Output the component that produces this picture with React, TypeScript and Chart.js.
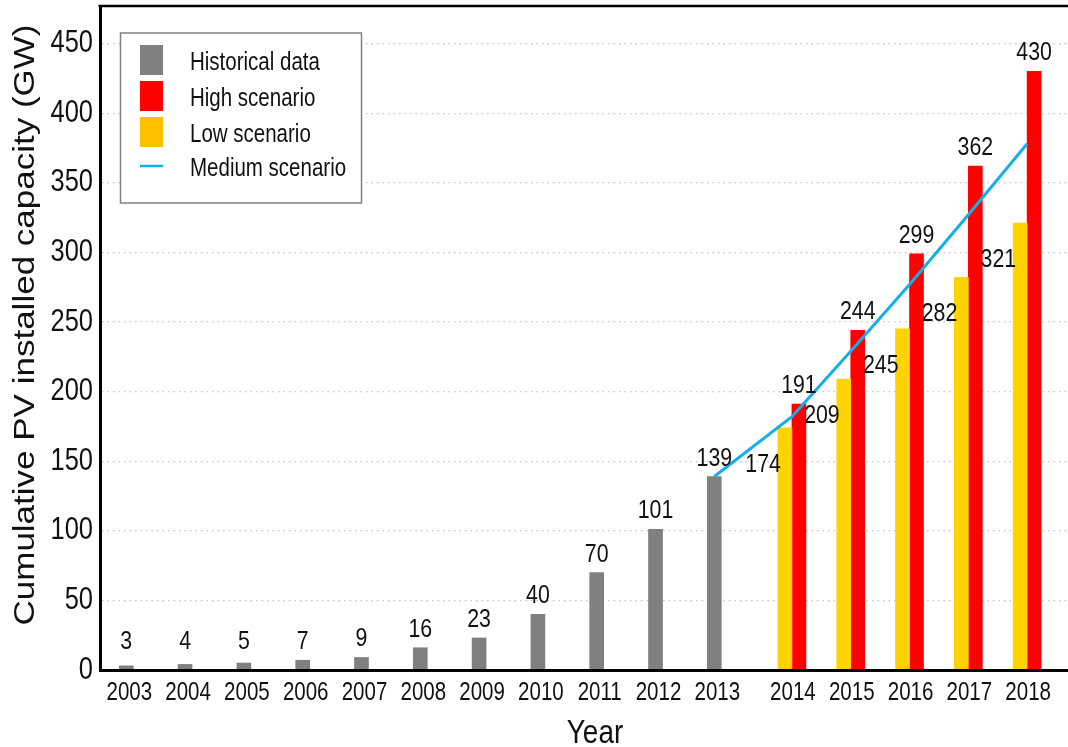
import React, { useEffect, useRef } from "react";
import { Chart, registerables } from "chart.js";

Chart.register(...registerables);

// ---------- data ----------
const historicalYears = [2003, 2004, 2005, 2006, 2007, 2008, 2009, 2010, 2011, 2012, 2013];
const historicalValues = [3, 4, 5, 7, 9, 16, 23, 40, 70, 101, 139];
const scenarioYears = [2014, 2015, 2016, 2017, 2018];
const highValues = [191, 244, 299, 362, 430];
const lowValues = [174, 209, 245, 282, 321];
const mediumYears = [2013, 2014, 2015, 2016, 2017, 2018];
const mediumValues = [139, 182, 229, 277, 327, 378];
const xTickYears = [...historicalYears, ...scenarioYears];
const xTickLabels = xTickYears.map(String);
const legendLabels = ["Historical data", "High scenario", "Low scenario", "Medium scenario"];
const yTitle = "Cumulative PV installed capacity (GW)";
const xTitle = "Year";

// ---------- style ----------
const GRAY = "#808080";
const RED = "#ff0000";
const YELLOW = "#ffd200";
const LEGEND_YELLOW = "#ffc000";
const BLUE = "#14afe9";
const FONT = "'Liberation Sans', Arial, sans-serif";
const SQUEEZE = 0.82;
const TEXT = "#111";
const FORECAST_GAP = 0.32;
const xPos = (year: number) => year - 2003 + (year >= 2014 ? FORECAST_GAP : 0);

function narrowText(
  ctx: CanvasRenderingContext2D,
  text: string,
  x: number,
  y: number,
  size: number,
  align: CanvasTextAlign,
  baseline: CanvasTextBaseline = "alphabetic"
) {
  ctx.save();
  ctx.translate(x, y);
  ctx.scale(SQUEEZE, 1);
  ctx.font = `${size}px ${FONT}`;
  ctx.fillStyle = TEXT;
  ctx.textAlign = align;
  ctx.textBaseline = baseline;
  ctx.fillText(text, 0, 0);
  ctx.restore();
}

const decorPlugin = {
  id: "pvDecor",
  afterDraw(chart: any) {
    const { ctx, chartArea } = chart;
    const xScale = chart.scales.x;
    const yScale = chart.scales.y;
    const zeroY = yScale.getPixelForValue(0);
    ctx.save();

    // top frame line
    ctx.strokeStyle = "#000";
    ctx.lineWidth = 2.5;
    ctx.beginPath();
    ctx.moveTo(chartArea.left - 1.5, chartArea.top);
    ctx.lineTo(chart.width, chartArea.top);
    ctx.stroke();

    // tick labels
    yScale.ticks.forEach((t: any) => {
      narrowText(ctx, String(t.value), chartArea.left - 7, yScale.getPixelForValue(t.value), 31, "right", "middle");
    });
    xScale.ticks.forEach((t: any, i: number) => {
      const shift = xTickYears[i] < 2014 ? 3 : 1;
      narrowText(ctx, xTickLabels[i], xScale.getPixelForValue(t.value) + shift, 700, 25, "center");
    });

    // value labels
    const histMeta = chart.getDatasetMeta(1);
    histMeta.data.forEach((el: any, i: number) => {
      const yb = Math.min(el.y - 11, zeroY - 21);
      narrowText(ctx, String(historicalValues[i]), el.x, yb, 26, "center");
    });
    const lowMeta = chart.getDatasetMeta(2);
    lowMeta.data.forEach((el: any, i: number) => {
      narrowText(ctx, String(lowValues[i]), el.x - el.width / 2 + 3, el.y + 44, 26, "right");
    });
    const highMeta = chart.getDatasetMeta(3);
    highMeta.data.forEach((el: any, i: number) => {
      narrowText(ctx, String(highValues[i]), el.x, el.y - 11, 26, "center");
    });

    // legend
    const lx = 120.5, ly = 33, lw = 241, lh = 170;
    ctx.fillStyle = "#fff";
    ctx.fillRect(lx, ly, lw, lh);
    ctx.strokeStyle = "#808080";
    ctx.lineWidth = 1.5;
    ctx.strokeRect(lx, ly, lw, lh);
    const swatchColors = [GRAY, RED, LEGEND_YELLOW];
    const rowCenters = [60, 96, 132, 166];
    swatchColors.forEach((c, i) => {
      ctx.fillStyle = c;
      ctx.fillRect(140, rowCenters[i] - 15, 23, 30);
    });
    ctx.strokeStyle = BLUE;
    ctx.lineWidth = 2.5;
    ctx.beginPath();
    ctx.moveTo(140, rowCenters[3]);
    ctx.lineTo(163, rowCenters[3]);
    ctx.stroke();
    legendLabels.forEach((t, i) => {
      narrowText(ctx, t, 190, rowCenters[i] + 10, 25, "left");
    });

    // axis titles
    ctx.save();
    ctx.translate(34, 325);
    ctx.scale(0.83, 1);
    ctx.rotate(-Math.PI / 2);
    ctx.font = `35px ${FONT}`;
    ctx.fillStyle = TEXT;
    ctx.textAlign = "center";
    ctx.textBaseline = "alphabetic";
    ctx.fillText(yTitle, 0, 0);
    ctx.restore();

    narrowText(ctx, xTitle, 595, 743, 34, "center");

    ctx.restore();
  },
};

export default function App() {
  const canvasRef = useRef<HTMLCanvasElement | null>(null);

  useEffect(() => {
    if (!canvasRef.current) return;
    const chart = new Chart(canvasRef.current, {
      type: "bar",
      data: {
        datasets: [
          {
            type: "line",
            label: "Medium scenario",
            data: mediumYears.map((y, i) => ({ x: xPos(y), y: mediumValues[i] })),
            borderColor: BLUE,
            borderWidth: 3,
            pointRadius: 0,
            tension: 0,
            fill: false,
            order: 0,
          } as any,
          {
            label: "Historical data",
            data: historicalYears.map((y, i) => ({ x: xPos(y), y: historicalValues[i] })),
            backgroundColor: GRAY,
            grouped: false,
            barThickness: 14,
            maxBarThickness: 14,
            order: 1,
          } as any,
          {
            label: "Low scenario",
            data: scenarioYears.map((y, i) => ({ x: xPos(y), y: lowValues[i] })),
            backgroundColor: YELLOW,
            barThickness: 14,
            order: 1,
          } as any,
          {
            label: "High scenario",
            data: scenarioYears.map((y, i) => ({ x: xPos(y), y: highValues[i] })),
            backgroundColor: RED,
            barThickness: 14,
            order: 1,
          } as any,
        ],
      },
      options: {
        animation: false,
        responsive: false,
        devicePixelRatio: 1,
        layout: { padding: { top: 6, left: 0, right: 0, bottom: 0 } },
        plugins: {
          legend: { display: false },
          tooltip: { enabled: false },
        },
        scales: {
          x: {
            type: "linear",
            offset: false,
            min: -0.447,
            max: 16.015,
            grid: { display: false, drawTicks: false, offset: false },
            border: { display: true, color: "#000", width: 3, z: 1 },
            ticks: { display: false, autoSkip: false },
            afterBuildTicks: (axis: any) => {
              axis.ticks = xTickYears.map((y) => ({ value: xPos(y) }));
            },
            afterFit: (s: any) => {
              s.height = 77;
              s.paddingLeft = 0;
              s.paddingRight = 0;
            },
          } as any,
          y: {
            type: "linear",
            min: 0,
            max: 477,
            grid: { color: "#c4c4c4", lineWidth: 1.3, drawTicks: false },
            border: { display: true, color: "#000", width: 3, z: 1, dash: [1.5, 4] },
            ticks: { display: false, stepSize: 50, includeBounds: false },
            afterFit: (s: any) => {
              s.width = 100;
              s.paddingTop = 0;
              s.paddingBottom = 0;
            },
          } as any,
        },
      } as any,
      plugins: [decorPlugin],
    });
    return () => chart.destroy();
  }, []);

  return (
    <div style={{ position: "fixed", left: 0, top: 0, width: 1068, height: 747, background: "#fff" }}>
      <canvas ref={canvasRef} width={1068} height={747} style={{ width: 1068, height: 747, display: "block" }} />
    </div>
  );
}
